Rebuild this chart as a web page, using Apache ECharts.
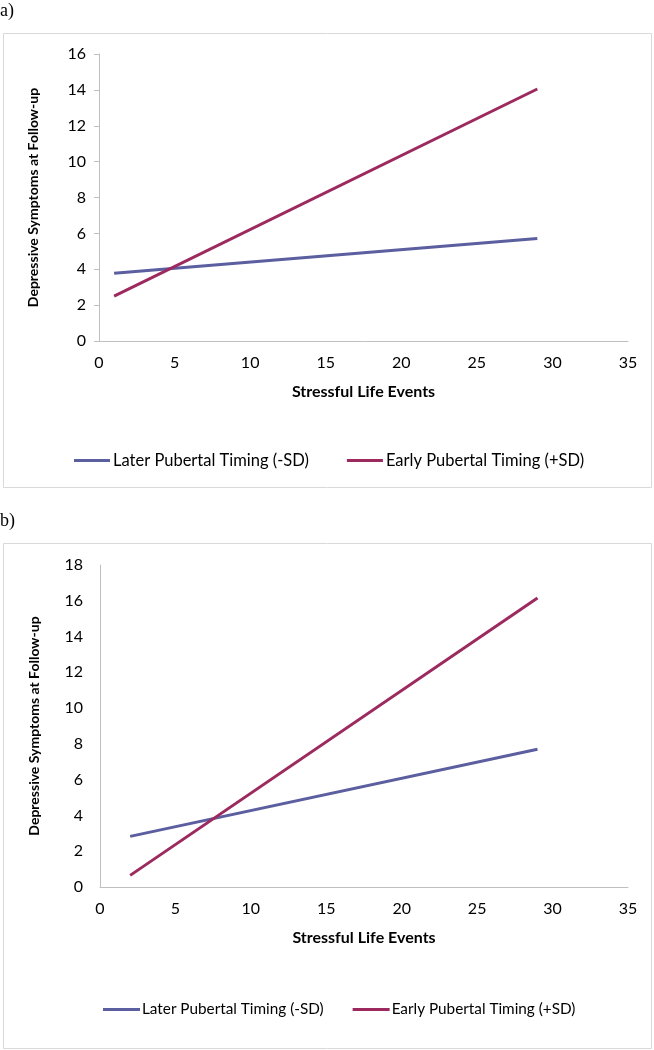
<!DOCTYPE html>
<html>
<head>
<meta charset="utf-8">
<script src="https://cdn.jsdelivr.net/npm/echarts@6/dist/echarts.min.js"></script>
<style>html,body{margin:0;padding:0;background:#fff}#c{width:654px;height:1050px}</style>
</head>
<body>
<div id="c"></div>
<script>
// Data
const seriesNames = ['Later Pubertal Timing (-SD)', 'Early Pubertal Timing (+SD)'];
const xTitle = 'Stressful Life Events';
const yTitle = 'Depressive Symptoms at Follow-up';
// Panel a
const aX = [1, 29];
const aLater = [3.78, 5.72];
const aEarly = [2.5, 14.05];
// Panel b
const bX = [2, 29];
const bLater = [2.83, 7.7];
const bEarly = [0.65, 16.15];

const blue = '#5b5e9f';
const red = '#9c2a5e';
const font = 'Lato';

function pairs(xs, ys) { return xs.map((x, i) => [x, ys[i]]); }

const chart = echarts.init(document.getElementById('c'), null, {renderer: 'canvas'});

function xAxisCfg(gi) {
  return {
    gridIndex: gi, type: 'value', min: 0, max: 35, interval: 5,
    name: xTitle, nameLocation: 'middle', nameGap: 43,
    nameTextStyle: {fontFamily: font, fontWeight: 'bold', fontSize: 16, color: '#000'},
    axisLine: {show: true, lineStyle: {color: '#bfbfbf', width: 1}},
    axisTick: {show: false},
    splitLine: {show: false},
    axisLabel: {fontFamily: font, fontSize: 16, color: '#000', margin: 14}
  };
}
function yAxisCfg(gi, max, ticks) {
  return {
    gridIndex: gi, type: 'value', min: 0, max: max, interval: 2,
    name: yTitle, nameLocation: 'middle', nameGap: 59,
    nameTextStyle: {fontFamily: font, fontWeight: 'bold', fontSize: 14, color: '#000'},
    axisLine: {show: true, lineStyle: {color: '#bfbfbf', width: 1}},
    axisTick: {show: ticks, length: 5, lineStyle: {color: '#bfbfbf'}},
    splitLine: {show: false},
    axisLabel: {fontFamily: font, fontSize: 16, color: '#000', margin: ticks ? 13 : 17}
  };
}
function lineSeries(name, gi, data, color) {
  return {
    name: name, type: 'line', xAxisIndex: gi, yAxisIndex: gi, data: data,
    symbol: 'none', lineStyle: {color: color, width: 3}, itemStyle: {color: color},
    animation: false, silent: true
  };
}

chart.setOption({
  animation: false,
  grid: [
    {left: 99, top: 54, width: 529, height: 287},
    {left: 100, top: 565, width: 528, height: 322}
  ],
  xAxis: [xAxisCfg(0), xAxisCfg(1)],
  yAxis: [yAxisCfg(0, 16, true), yAxisCfg(1, 18, false)],
  legend: [
    {data: seriesNames, left: 74, top: 452, padding: 0, icon: 'rect', itemWidth: 36, itemHeight: 3, itemGap: 38,
     selectedMode: false, textStyle: {fontFamily: font, fontSize: 16.5, color: '#000', padding: [0,0,0,-2]}},
    {data: seriesNames, left: 103, top: 1002, padding: 0, icon: 'rect', itemWidth: 37, itemHeight: 3, itemGap: 29,
     selectedMode: false, textStyle: {fontFamily: font, fontSize: 15.3, color: '#000', padding: [0,0,0,-3]}}
  ],
  series: [
    lineSeries(seriesNames[0], 0, pairs(aX, aLater), blue),
    lineSeries(seriesNames[1], 0, pairs(aX, aEarly), red),
    lineSeries(seriesNames[0], 1, pairs(bX, bLater), blue),
    lineSeries(seriesNames[1], 1, pairs(bX, bEarly), red)
  ],
  graphic: [
    {type: 'rect', silent: true, shape: {x: 3.5, y: 33.5, width: 648, height: 454},
     style: {fill: null, stroke: '#d9d9d9', lineWidth: 1}},
    {type: 'rect', silent: true, shape: {x: 3.5, y: 543.5, width: 648, height: 505},
     style: {fill: null, stroke: '#d9d9d9', lineWidth: 1}},
    {type: 'text', left: 0, top: 2, style: {text: 'a)', fontFamily: 'Liberation Serif', fontSize: 18, fill: '#000'}},
    {type: 'text', left: 0, top: 512, style: {text: 'b)', fontFamily: 'Liberation Serif', fontSize: 18, fill: '#000'}}
  ]
});
</script>
</body>
</html>
